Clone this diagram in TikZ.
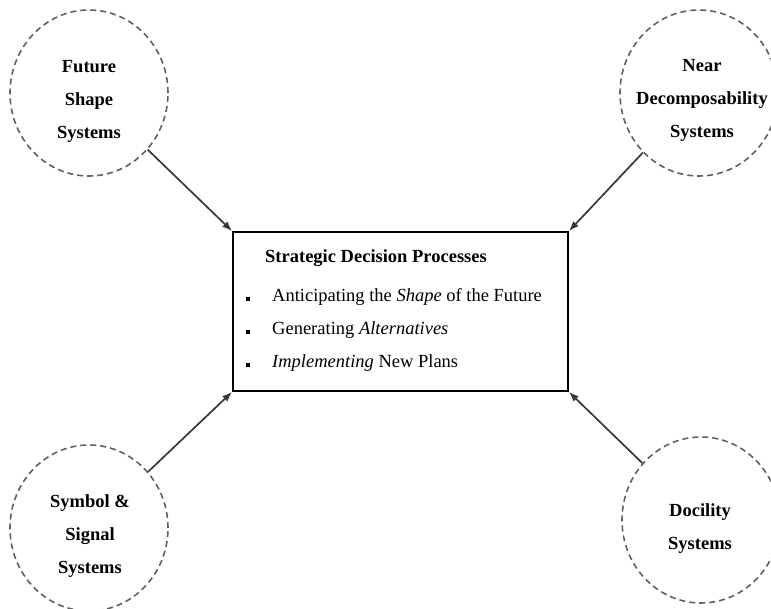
\documentclass[tikz,border=0pt]{standalone}
\usepackage{fontspec}
\setmainfont{Liberation Serif}
\usetikzlibrary{shapes.geometric,arrows.meta}
\begin{document}
\begin{tikzpicture}[x=1pt,y=-1pt,
  sysring/.style={ellipse,draw=black!62,line width=1.6pt,dash pattern=on 6pt off 4pt,minimum width=158pt,minimum height=166pt,inner sep=0pt},
  systext/.style={font=\fontsize{18.5}{33}\selectfont\bfseries,align=center,inner sep=0pt},
  itemtext/.style={font=\fontsize{18.5}{22}\selectfont,anchor=base west,inner sep=0pt},
  bulletbox/.style={fill=black,minimum size=4.5pt,inner sep=0pt},
  feed/.style={draw=black!78,line width=1.7pt,-{Latex[length=10pt,width=7.5pt]}}]
\useasboundingbox (0,0) rectangle (771,609);
\fill[white] (0,0) rectangle (771,609);
% circles
\node[sysring] (fs) at (89,93) {};
\node[sysring] (nd) at (699,93) {};
\node[sysring] (ss) at (89,528) {};
\node[sysring] (ds) at (701,520) {};
\node[systext] (fst) at (89,101) {Future\\Shape\\Systems};
\node[systext] (ndt) at (702,100) {Near\\Decomposability\\Systems};
\node[systext] (sst) at (90,536) {Symbol \&\\Signal\\Systems};
\node[systext] (dst) at (700,529) {Docility\\Systems};
% box
\node[draw=black,line width=1.8pt,minimum width=335pt,minimum height=159pt,inner sep=0pt] (box) at (400.5,311.5) {};
\node[itemtext,font=\fontsize{18.5}{22}\selectfont\bfseries] (title) at (265,263) {Strategic Decision Processes};
\node[bulletbox] (b1) at (248,299) {};
\node[bulletbox] (b2) at (248,332) {};
\node[bulletbox] (b3) at (248,365) {};
\node[itemtext] (i1) at (272,302) {Anticipating the \textit{Shape} of the Future};
\node[itemtext] (i2) at (272,335) {Generating \textit{Alternatives}};
\node[itemtext] (i3) at (272,368) {\textit{Implementing} New Plans};
% connectors
\draw[feed] (fs) -- (box.north west);
\draw[feed] (nd) -- (box.north east);
\draw[feed] (ss) -- (box.south west);
\draw[feed] (ds) -- (box.south east);
\end{tikzpicture}
\end{document}
